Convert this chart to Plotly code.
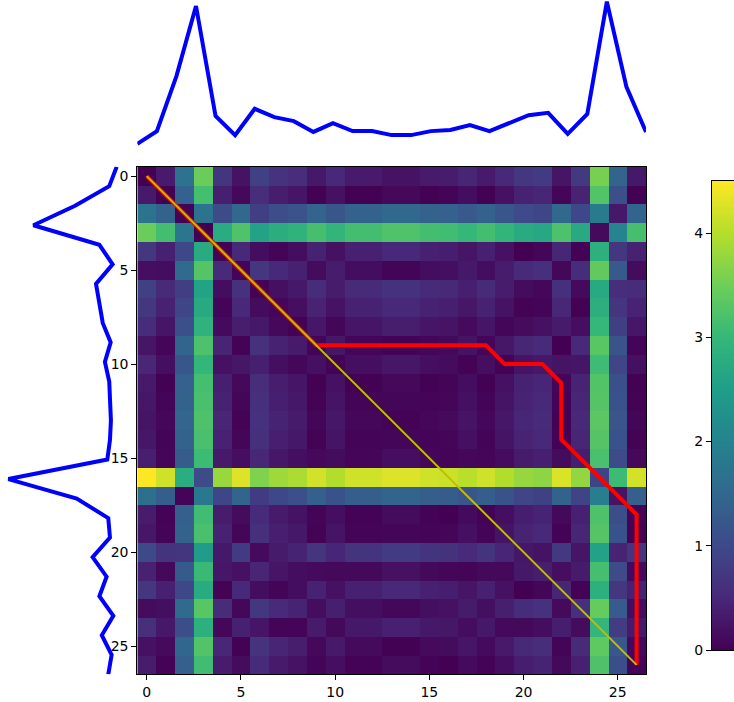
import numpy as np
import plotly.graph_objects as go

# ---- data ----
top_series = [-0.75, -0.43, 0.95, 2.71, -0.05, -0.53, 0.13, -0.08, -0.18, -0.45,
              -0.23, -0.43, -0.43, -0.53, -0.53, -0.43, -0.40, -0.28, -0.43, -0.23,
              -0.03, 0.03, -0.50, 0.00, 2.82, 0.68, -0.45]
left_series = [-0.75, -0.44, 0.98, 2.71, -0.03, -0.58, 0.11, -0.01, -0.17, -0.50,
               -0.26, -0.44, -0.47, -0.51, -0.47, -0.36, 3.75, 0.91, -0.40, -0.47,
               0.25, -0.33, -0.03, -0.61, -0.13, -0.54, -0.40]
# warping path (row index, column index)
path_i = [0, 1, 2, 3, 4, 5, 6, 7, 8, 9, 9, 9, 9, 9, 9, 9, 9, 9, 9,
          10, 10, 10, 11, 12, 13, 14, 15, 16, 17, 18, 19, 20, 21, 22, 23, 24, 25, 26]
path_j = [0, 1, 2, 3, 4, 5, 6, 7, 8, 9, 10, 11, 12, 13, 14, 15, 16, 17, 18,
          19, 20, 21, 22, 22, 22, 22, 23, 24, 25, 26, 26, 26, 26, 26, 26, 26, 26, 26]
tick_vals = [0, 5, 10, 15, 20, 25]
cbar_ticks = [0, 1, 2, 3, 4]

n = len(top_series)
idx = list(range(n))
D = np.abs(np.subtract.outer(np.array(left_series), np.array(top_series)))
zmin, zmax = float(D.min()), float(D.max())

W, H = 734, 702
FIG_H = 710
def dx(a, b):
    return [a / W, min(b / W, 1.0)]
def dy(t, b):
    return [1 - b / H, 1 - t / H]

hx = dx(137.3, 646.0)
hy = dy(166.7, 674.3)

fig = go.Figure()
fig.add_trace(go.Heatmap(z=D, x=idx, y=idx, colorscale="Viridis", zmin=zmin, zmax=zmax,
                         showscale=False, xaxis="x", yaxis="y", hoverinfo="skip"))
fig.add_trace(go.Scatter(x=path_j, y=path_i, mode="lines", line=dict(color="#ff0000", width=4),
                         xaxis="x", yaxis="y", showlegend=False))
fig.add_trace(go.Scatter(x=[idx[0], idx[-1]], y=[idx[0], idx[-1]], mode="lines",
                         line=dict(color="#bfbf00", width=2), xaxis="x", yaxis="y", showlegend=False))
fig.add_trace(go.Scatter(x=idx, y=top_series, mode="lines", line=dict(color="#0000ff", width=4),
                         xaxis="x2", yaxis="y2", showlegend=False))
fig.add_trace(go.Scatter(x=left_series, y=idx, mode="lines", line=dict(color="#0000ff", width=4),
                         xaxis="x3", yaxis="y3", showlegend=False))
levels = np.linspace(zmin, zmax, 300)
fig.add_trace(go.Heatmap(z=[[v] for v in levels], x=[0], y=levels, colorscale="Viridis",
                         zmin=zmin, zmax=zmax, showscale=False, xaxis="x4", yaxis="y4",
                         hoverinfo="skip"))

font = dict(family="DejaVu Sans", size=14, color="black")
common = dict(showgrid=False, zeroline=False, showline=True, linecolor="black", linewidth=1,
              ticks="outside", ticklen=5, tickwidth=1, tickcolor="black",
              tickfont=font)

fig.update_layout(
    width=W, height=FIG_H, margin=dict(l=0, r=0, t=0, b=0),
    paper_bgcolor="white", plot_bgcolor="white", showlegend=False,
    xaxis=dict(domain=hx, range=[-0.5, n - 0.5], tickvals=tick_vals, anchor="y",
               mirror=True, **common),
    yaxis=dict(domain=hy, range=[n - 0.5, -0.5], tickvals=tick_vals, anchor="x",
               mirror=True, **common),
    xaxis2=dict(domain=hx, range=[0, n - 1], visible=False, anchor="y2"),
    yaxis2=dict(domain=dy(0, 150), range=[-0.904, 2.861], visible=False, anchor="x2"),
    xaxis3=dict(domain=dx(0, 120), range=[4.098, -0.887], visible=False, anchor="y3"),
    yaxis3=dict(domain=hy, range=[n - 1, 0], visible=False, anchor="x3"),
    xaxis4=dict(domain=dx(712, 734), range=[-0.5, 0.5], showticklabels=False, ticks="",
                showgrid=False, zeroline=False, showline=True, linecolor="black",
                linewidth=1, mirror=True, anchor="y4"),
    yaxis4=dict(domain=dy(181, 650), range=[zmin, zmax], tickvals=cbar_ticks, side="left",
                anchor="x4", mirror=False, **common),
)

fig.write_html("out.html", config={"displayModeBar": False},
               post_script="document.body.style.margin='0';document.body.style.overflow='hidden';")
